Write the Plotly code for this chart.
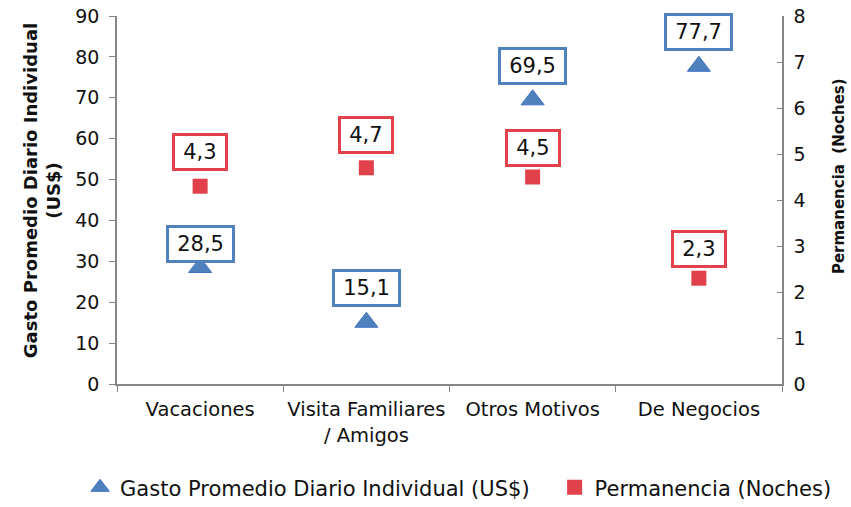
import plotly.graph_objects as go

categories = ["Vacaciones", "Visita Familiares<br>/ Amigos", "Otros Motivos", "De Negocios"]
gasto = [28.5, 15.1, 69.5, 77.7]
permanencia = [4.3, 4.7, 4.5, 2.3]
left_ticks = [0, 10, 20, 30, 40, 50, 60, 70, 80, 90]
right_ticks = [0, 1, 2, 3, 4, 5, 6, 7, 8]

gasto_label_shift = [23, 34, 34, 34]
perm_label_shift = [34, 33, 29, 29]

BLUE = "#4f81bd"
RED = "#e0414a"
AXIS = "#868686"
FONT = "DejaVu Sans"
TS = "\u2009"
NB = "\u00a0"

def fmt(v):
    return TS + f"{v:.1f}".replace(".", ",") + TS

fig = go.Figure()
fig.add_trace(go.Scatter(
    x=categories, y=gasto, mode="markers",
    name="Gasto Promedio Diario Individual (US$)" + NB * 3,
    marker=dict(symbol="triangle-up", size=20, color=BLUE, line=dict(color="#3f6fc4", width=1)),
    yaxis="y", cliponaxis=False))
fig.add_trace(go.Scatter(
    x=categories, y=permanencia, mode="markers", name="Permanencia (Noches)",
    marker=dict(symbol="square", size=15, color=RED, line=dict(width=0)),
    yaxis="y2", cliponaxis=False))

for c, v, s in zip(categories, gasto, gasto_label_shift):
    fig.add_annotation(x=c, y=v, xref="x", yref="y", text=fmt(v), showarrow=False,
                       yshift=s, bgcolor="white", bordercolor=BLUE, borderwidth=3, borderpad=4,
                       font=dict(family=FONT, size=21, color="#111"))
for c, v, s in zip(categories, permanencia, perm_label_shift):
    fig.add_annotation(x=c, y=v, xref="x", yref="y2", text=fmt(v), showarrow=False,
                       yshift=s, bgcolor="white", bordercolor=RED, borderwidth=3, borderpad=4,
                       font=dict(family=FONT, size=21, color="#111"))

# axis titles
fig.add_annotation(x=0, xref="paper", xshift=-75, xanchor="center",
                   y=0.524, yref="paper", yanchor="middle",
                   text="<b>Gasto Promedio Diario Individual<br>(US$)</b>", textangle=-90,
                   showarrow=False, font=dict(family=FONT, size=18, color="#111"))
fig.add_annotation(x=1, xref="paper", xshift=57, xanchor="center",
                   y=0.565, yref="paper", yanchor="middle",
                   text="<b>Permanencia  (Noches)</b>", textangle=-90,
                   showarrow=False, font=dict(family=FONT, size=15, color="#111"))

fig.update_layout(
    width=851, height=507,
    margin=dict(l=117, r=69, t=16, b=123, autoexpand=False),
    paper_bgcolor="white", plot_bgcolor="white",
    showlegend=True,
    legend=dict(orientation="h", x=-0.0555, xanchor="left", y=-0.226, yanchor="top",
                font=dict(family=FONT, size=21, color="#111"), itemsizing="trace"),
    xaxis=dict(type="category", range=[-0.5, 3.5], tickson="boundaries", ticks="outside",
               ticklen=6, tickcolor=AXIS, showline=True, linecolor=AXIS, linewidth=1.5,
               showgrid=False, zeroline=False, automargin=False, tickangle=0,
               ticklabelstandoff=7,
               tickfont=dict(family=FONT, size=19.5, color="#111")),
    yaxis=dict(range=[0, 90], tickvals=left_ticks, ticks="outside", ticklen=6,
               tickcolor=AXIS, showline=True, linecolor=AXIS, linewidth=1.5,
               showgrid=False, zeroline=False, automargin=False, ticklabelstandoff=6,
               tickfont=dict(family=FONT, size=19, color="#111")),
    yaxis2=dict(range=[0, 8], tickvals=right_ticks, overlaying="y", side="right",
                ticks="inside", ticklen=5, tickcolor=AXIS, showline=True, linecolor=AXIS,
                linewidth=1.5, showgrid=False, zeroline=False, automargin=False,
                ticklabelstandoff=6,
                tickfont=dict(family=FONT, size=19, color="#111")),
)

fig.write_html("out.html", post_script="document.body.style.margin='0';",
               config={"displayModeBar": False})
